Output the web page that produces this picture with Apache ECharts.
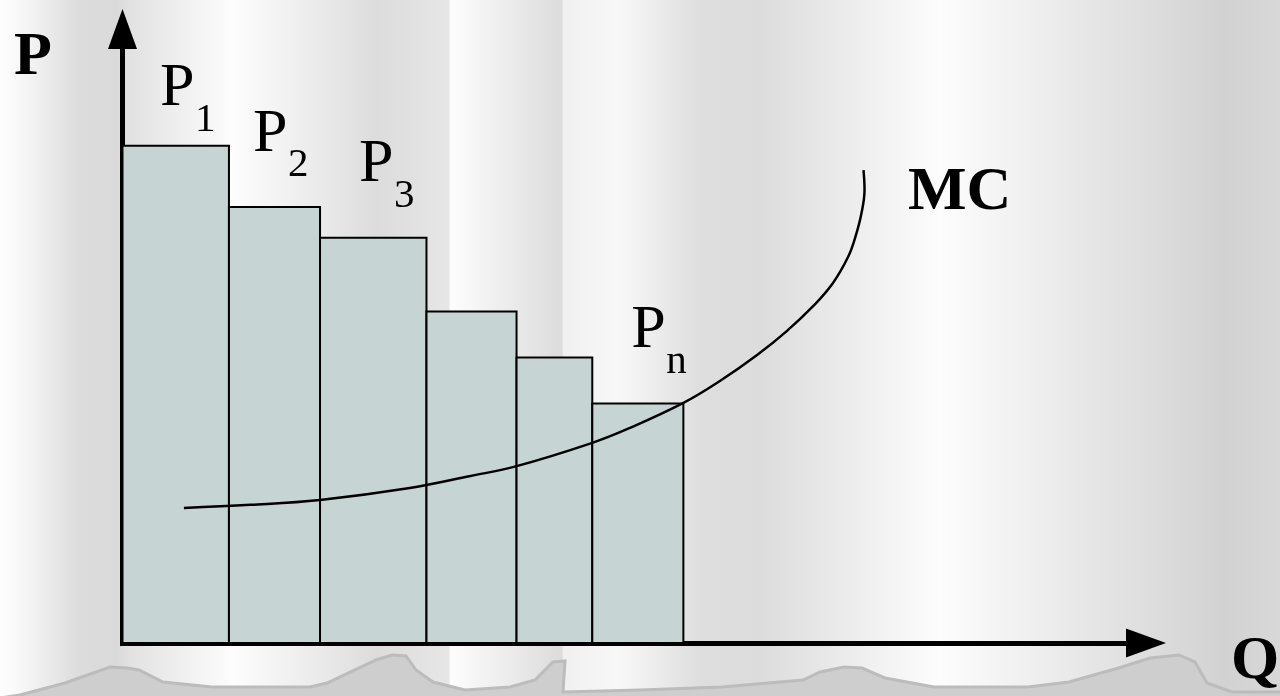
<!DOCTYPE html>
<html>
<head>
<meta charset="utf-8">
<script src="https://cdn.jsdelivr.net/npm/echarts@6/dist/echarts.min.js"></script>
<style>
  html, body { margin: 0; padding: 0; background: #e8e8e8; }
  #chart { width: 1280px; height: 696px; }
</style>
</head>
<body>
<div id="chart"></div>
<script>
// Quantity blocks, each sold at its own price (perfect price discrimination)
const blockEdges = [0, 1.04, 1.93, 2.97, 3.85, 4.59, 5.48];
const blockPrices = [8.1, 7.1, 6.6, 5.4, 4.65, 3.9];
const priceSubscripts = ['1', '2', '3', '', '', 'n'];

// Marginal cost curve, as (Q, P) pairs
const mcQ = [0.60, 1.25, 1.93, 2.79, 3.40, 3.85, 4.59, 4.94, 5.48, 5.84, 6.20, 6.49, 6.75, 6.94, 7.09, 7.16, 7.22, 7.25, 7.24];
const mcP = [2.20, 2.25, 2.33, 2.52, 2.72, 2.88, 3.26, 3.49, 3.91, 4.27, 4.69, 5.08, 5.49, 5.86, 6.29, 6.61, 7.00, 7.38, 7.70];

// Where each price label sits relative to its block's top-left corner (px)
const labelOffsets = [[37.5, -37], [24, -53], [39, -53], null, null, [39, -53]];

const SERIF = '"Liberation Serif", "Times New Roman", serif';
const MAIN_SIZE = 62;
const SUB_SIZE = 41;

// text is positioned by its em-middle; convert from a baseline
function midFromBaseline(base, size) { return base - 0.32 * size; }

function textEl(x, y, str, size, bold, z) {
  return {
    type: 'text', x: x, y: y, z: z || 10, silent: true,
    style: {
      text: str, fill: '#000',
      font: (bold ? 'bold ' : '') + size + 'px ' + SERIF,
      align: 'left', verticalAlign: 'middle',
      textAlign: 'left', textVerticalAlign: 'middle'
    }
  };
}

function renderBlock(params, api) {
  const i = params.dataIndex;
  const q0 = api.value(0), q1 = api.value(1), p = api.value(2);
  const tl = api.coord([q0, p]);
  const br = api.coord([q1, 0]);
  const children = [{
    type: 'rect',
    shape: { x: tl[0], y: tl[1], width: br[0] - tl[0], height: br[1] - tl[1] },
    style: { fill: '#c6d4d4', stroke: '#000', lineWidth: 2 }
  }];
  const sub = priceSubscripts[i];
  if (sub) {
    const off = labelOffsets[i];
    const px = tl[0] + off[0];
    const base = tl[1] + off[1];
    children.push(textEl(px, midFromBaseline(base, MAIN_SIZE), 'P', MAIN_SIZE, false));
    children.push(textEl(px + 35, midFromBaseline(base + 24.5, SUB_SIZE), sub, SUB_SIZE, false));
  }
  return { type: 'group', children: children };
}

// curtain-like backdrop: vertical light/dark bands
const bandStops = [
  [0, '#fdfdfd'], [0.0117, '#fafafa'], [0.0625, '#dcdcdc'], [0.092, '#dadada'],
  [0.1016, '#e2e2e2'], [0.182, '#fdfdfd'], [0.258, '#e8e8e8'], [0.295, '#dcdcdc'],
  [0.3477, '#e6e6e6'], [0.3508, '#e8e8e8'], [0.352, '#fdfdfd'], [0.439, '#dcdcdc'],
  [0.4402, '#f0f0f0'], [0.484, '#f8f8f8'], [0.547, '#dedede'], [0.594, '#dcdcdc'],
  [0.734, '#fdfdfd'], [0.957, '#d2d2d2'], [1, '#d8d8d8']
].map(s => ({ offset: s[0], color: s[1] }));

// rocky ridge along the bottom edge
const ridge = [
  [0, 698], [20, 695], [65, 683], [110, 667], [127, 668], [139, 670], [163, 682],
  [212, 687], [310, 687], [327, 683], [376, 660], [392, 655], [406, 656], [416, 670],
  [433, 682], [465, 690], [510, 687], [535, 680], [553, 662], [565, 661], [563, 692],
  [640, 690], [722, 687], [803, 680], [820, 672], [844, 667], [862, 668], [885, 678],
  [934, 687], [1028, 687], [1069, 682], [1122, 667], [1150, 658], [1179, 655],
  [1195, 662], [1207, 683], [1232, 692], [1282, 692], [1282, 700], [0, 700]
];

const chart = echarts.init(document.getElementById('chart'));
chart.setOption({
  animation: false,
  graphic: [
    {
      type: 'rect', z: -100, silent: true,
      shape: { x: 0, y: 0, width: 1280, height: 696 },
      style: { fill: new echarts.graphic.LinearGradient(0, 0, 1, 0, bandStops) }
    },
    {
      type: 'polygon', z: -90, silent: true,
      shape: { points: ridge },
      style: { fill: '#cecece', stroke: '#bcbcbc', lineWidth: 3 }
    },
    textEl(14, midFromBaseline(78, MAIN_SIZE), 'P', MAIN_SIZE, true),
    textEl(908, midFromBaseline(213, MAIN_SIZE), 'MC', MAIN_SIZE, true),
    textEl(1231, midFromBaseline(682, MAIN_SIZE), 'Q', MAIN_SIZE, true)
  ],
  grid: { left: 122.5, right: 134, top: 29, bottom: 53 },
  xAxis: {
    type: 'value', min: 0, max: 10,
    axisLine: {
      show: true, symbol: ['none', 'triangle'], symbolSize: [29, 40],
      lineStyle: { color: '#000', width: 5, cap: 'square' }
    },
    axisTick: { show: false }, axisLabel: { show: false }, splitLine: { show: false }
  },
  yAxis: {
    type: 'value', min: 0, max: 10,
    axisLine: {
      show: true, symbol: ['none', 'triangle'], symbolSize: [29, 40],
      lineStyle: { color: '#000', width: 5, cap: 'square' }
    },
    axisTick: { show: false }, axisLabel: { show: false }, splitLine: { show: false }
  },
  series: [
    {
      type: 'custom', silent: true, z: 2,
      renderItem: renderBlock,
      encode: { x: [0, 1], y: 2 },
      data: blockPrices.map((p, i) => [blockEdges[i], blockEdges[i + 1], p])
    },
    {
      type: 'line', silent: true, z: 3,
      data: mcQ.map((q, i) => [q, mcP[i]]),
      smooth: 0.4, showSymbol: false, symbol: 'none',
      lineStyle: { color: '#000', width: 2.5 }
    }
  ]
});
</script>
</body>
</html>
